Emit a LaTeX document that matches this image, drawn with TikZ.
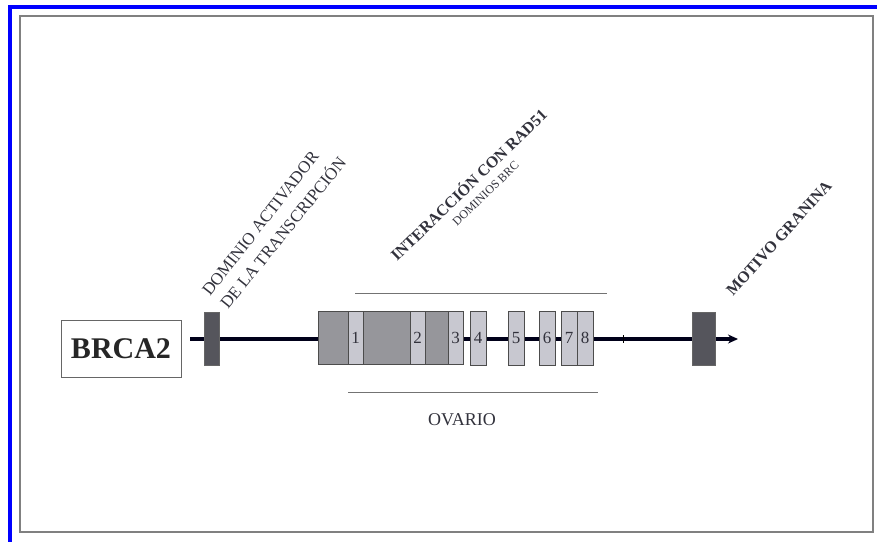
\documentclass[tikz,border=0pt]{standalone}
\usepackage{fontspec}
\setmainfont{Liberation Serif}
\usetikzlibrary{arrows.meta}
\definecolor{frameblue}{RGB}{0,0,255}
\definecolor{darkbox}{RGB}{85,85,92}
\definecolor{midgray}{RGB}{150,150,155}
\definecolor{lightgray}{RGB}{200,200,208}
\definecolor{txt}{RGB}{50,50,60}
\begin{document}
\begin{tikzpicture}[x=1pt,y=-1pt,
  seg/.style={rectangle,draw=black!70,line width=0.8pt,inner sep=0pt,outer sep=0pt,minimum height=54pt},
  lightseg/.style={seg,fill=lightgray,minimum width=16pt,font=\fontsize{17}{17}\selectfont,text=txt},
  darkseg/.style={rectangle,draw=black!60,fill=darkbox,inner sep=0pt,outer sep=0pt,minimum height=53pt},
  lbl/.style={inner sep=0pt,text=txt,anchor=base west},
  rule/.style={draw=black!55,line width=1pt}]
\useasboundingbox (0,0) rectangle (877,542);
% frames
\fill[white] (0,0) rectangle (877,542);
\draw[frameblue,line width=4pt] (8,7) -- (877,7);
\draw[frameblue,line width=4pt] (10,5) -- (10,542);
\draw[black!50,line width=1.5pt] (20,16) rectangle (873,532);
% backbone
\coordinate (start) at (190,339);
\coordinate (tip) at (738,339);
\draw[black!90!blue,line width=3.5pt,-{Stealth[length=10pt,width=9pt]}] (start) -- (tip);
\draw[black,line width=1pt] (623,335) -- (623,343);
% BRCA2 box
\node[rectangle,draw=black!60,line width=0.8pt,minimum width=120pt,minimum height=57pt,inner sep=0pt,
  font=\fontsize{30}{30}\selectfont\bfseries,text=black!85] (brca) at (121,348.5) {BRCA2};
% dark boxes
\node[darkseg,minimum width=15pt] (ldark) at (211.5,338.5) {};
\node[darkseg,minimum width=23pt] (rdark) at (703.5,338.5) {};
% big block
\node[seg,fill=midgray,minimum width=145pt,minimum height=53pt] (block) at (390.5,337.5) {};
\node[lightseg,minimum width=15pt,minimum height=53pt] (s1) at (355.5,337.5) {1};
\node[lightseg,minimum width=15pt,minimum height=53pt] (s2) at (417.5,337.5) {2};
\node[lightseg,minimum width=15pt,minimum height=53pt] (s3) at (455.5,337.5) {3};
\node[lightseg] (s4) at (478,338) {4};
\node[lightseg] (s5) at (516,338) {5};
\node[lightseg] (s6) at (547,338) {6};
\node[lightseg] (s7) at (569,338) {7};
\node[lightseg] (s8) at (585,338) {8};
% rules
\coordinate (ta) at (355,293); \coordinate (tb) at (607,293);
\coordinate (ba) at (348,392); \coordinate (bb) at (598,392);
\draw[rule] (ta) -- (tb);
\draw[rule] (ba) -- (bb);
\node[inner sep=0pt,text=txt,font=\fontsize{18}{18}\selectfont] (ovario) at (462,420) {OVARIO};
% rotated labels
\node[lbl,rotate=52,font=\fontsize{17}{17}\selectfont] (dom1) at (210,297) {DOMINIO ACTIVADOR};
\node[lbl,rotate=51,font=\fontsize{17}{17}\selectfont] (dom2) at (228,310) {DE LA TRANSCRIPCIÓN};
\node[lbl,rotate=44,font=\fontsize{16}{16}\selectfont\bfseries] (rad) at (397,262) {INTERACCIÓN CON RAD51};
\node[lbl,rotate=44,font=\fontsize{12}{12}\selectfont] (brc) at (457,227) {DOMINIOS BRC};
\node[lbl,rotate=48,font=\fontsize{16}{16}\selectfont\bfseries] (gran) at (733,297) {MOTIVO GRANINA};
\end{tikzpicture}
\end{document}
